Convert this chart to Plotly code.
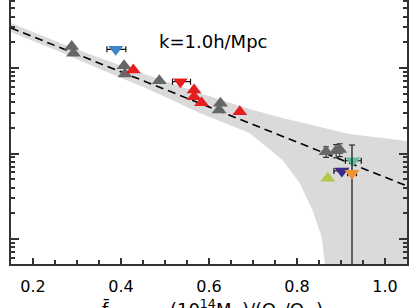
import plotly.graph_objects as go

# ---- data ----
fit_x = [0.15, 1.05]
fit_y = [0.294, 0.00417]

band_upper_x = [0.15, 0.262, 0.352, 0.466, 0.579, 0.692, 0.767, 0.806, 0.835, 0.856, 0.919, 0.994, 1.05]
band_upper_y = [0.336, 0.196, 0.131, 0.0806, 0.0510, 0.0332, 0.0260, 0.0234, 0.0215, 0.0204, 0.0169, 0.0152, 0.0140]
band_lower_x = [0.15, 0.262, 0.352, 0.466, 0.579, 0.692, 0.767, 0.806, 0.835, 0.856, 0.866]
band_lower_y = [0.264, 0.154, 0.0973, 0.0553, 0.0298, 0.0174, 0.00839, 0.00452, 0.00218, 0.00106, 0.00040]
band_floor = 0.0001

grey_x = [0.288, 0.292, 0.407, 0.409, 0.487, 0.626, 0.623, 0.866, 0.889, 0.897]
grey_y = [0.178, 0.149, 0.106, 0.085, 0.071, 0.0386, 0.0323, 0.0105, 0.0108, 0.0111]
grey_yerr = [0, 0, 0, 0, 0, 0, 0, 0.0015, 0.0019, 0.0019]

red_up_x = [0.428, 0.566, 0.566, 0.583, 0.670]
red_up_y = [0.0948, 0.0553, 0.0462, 0.0393, 0.0308]

down_names = ["blue", "red", "green", "indigo", "orange"]
down_x = [0.388, 0.535, 0.927, 0.902, 0.925]
down_y = [0.1655, 0.0691, 0.00823, 0.00624, 0.00587]
down_xerr_minus = [0.020, 0.018, 0.017, 0.018, 0.010]
down_xerr_plus = [0.023, 0.023, 0.019, 0.013, 0.010]
down_colors = ["#3f86c8", "#e3201f", "#62bf98", "#3b2a8c", "#f3902f"]

orange_yerr_plus = 0.0067
orange_yerr_minus = 0.00586

lime_x = [0.870]
lime_y = [0.00513]

x_ticks = [0.2, 0.4, 0.6, 0.8, 1.0]
y_major = [1e-3, 1e-2, 1e-1]
y_minor = [m * 10.0 ** e for e in (-4, -3, -2, -1) for m in range(2, 10)]

# ---- figure ----
fig = go.Figure()

poly_x = band_upper_x + [1.05, band_lower_x[-1]] + band_lower_x[::-1]
poly_y = band_upper_y + [band_floor, band_floor] + band_lower_y[::-1]
fig.add_trace(go.Scatter(x=poly_x, y=poly_y, mode="lines", fill="toself",
                         fillcolor="#dadada", line=dict(width=0), hoverinfo="skip"))

fig.add_trace(go.Scatter(x=fit_x, y=fit_y, mode="lines",
                         line=dict(color="black", width=1.6, dash="8px,5px")))

fig.add_trace(go.Scatter(x=grey_x, y=grey_y, mode="markers",
                         marker=dict(symbol="triangle-up", size=13, color="#666666"),
                         error_y=dict(type="data", array=grey_yerr, color="#333333",
                                      thickness=1.2, width=3)))

fig.add_trace(go.Scatter(x=red_up_x, y=red_up_y, mode="markers",
                         marker=dict(symbol="triangle-up", size=13, color="#e3201f")))

for i, name in enumerate(down_names):
    ey = None
    if name == "orange":
        ey = dict(type="data", symmetric=False, array=[orange_yerr_plus],
                  arrayminus=[orange_yerr_minus], color="#111111", thickness=1.2, width=3)
    fig.add_trace(go.Scatter(
        x=[down_x[i]], y=[down_y[i]], mode="markers", name=name,
        marker=dict(symbol="triangle-down", size=13, color=down_colors[i]),
        error_x=dict(type="data", symmetric=False, array=[down_xerr_plus[i]],
                     arrayminus=[down_xerr_minus[i]], color="#111111", thickness=1.2, width=3),
        error_y=ey))

fig.add_trace(go.Scatter(x=lime_x, y=lime_y, mode="markers",
                         marker=dict(symbol="triangle-up", size=13, color="#b3c74c")))

axis_col = "#333333"
fig.update_layout(
    width=413, height=308,
    margin=dict(l=11, r=6, t=0, b=44),
    paper_bgcolor="white", plot_bgcolor="white",
    showlegend=False,
    font=dict(family="DejaVu Sans", size=16, color="black"),
    xaxis=dict(range=[0.15, 1.05], tickvals=x_ticks, tickformat=".1f",
               ticks="inside", ticklen=6, tickwidth=1.5, tickcolor=axis_col,
               showline=True, linecolor=axis_col, linewidth=2, mirror=False,
               showgrid=False, zeroline=False, ticklabelstandoff=7,
               minor=dict(dtick=0.05, tick0=0.2, ticks="inside", ticklen=4,
                          tickwidth=1.5, tickcolor=axis_col, showgrid=False)),
    yaxis=dict(type="log", range=[-3.2924, -0.2047], tickvals=y_major,
               showticklabels=False, ticks="inside", ticklen=8, tickwidth=1.5,
               tickcolor=axis_col, showline=True, linecolor=axis_col, linewidth=2,
               mirror="ticks", showgrid=False, zeroline=False,
               minor=dict(tickvals=y_minor, ticks="inside", ticklen=4,
                          tickwidth=1.5, tickcolor=axis_col, showgrid=False)),
)

fig.add_annotation(text="k=1.0h/Mpc", xref="paper", yref="paper",
                   x=0.51, y=0.842, xanchor="center", yanchor="middle",
                   showarrow=False, font=dict(family="DejaVu Sans", size=18))

fig.add_annotation(text="f\u0304<sub>bar,500c</sub> (10<sup>14</sup>M<sub>\u2299</sub>)/(\u03a9<sub>b</sub>/\u03a9<sub>m</sub>)",
                   xref="paper", yref="paper", x=(100 - 11) / 396, y=1 - 294 / 264,
                   xanchor="left", yanchor="top", showarrow=False,
                   font=dict(family="DejaVu Sans", size=18))

fig.write_html("out.html", config={"displayModeBar": False},
               post_script="document.body.style.margin='0';document.body.style.overflow='hidden';")
